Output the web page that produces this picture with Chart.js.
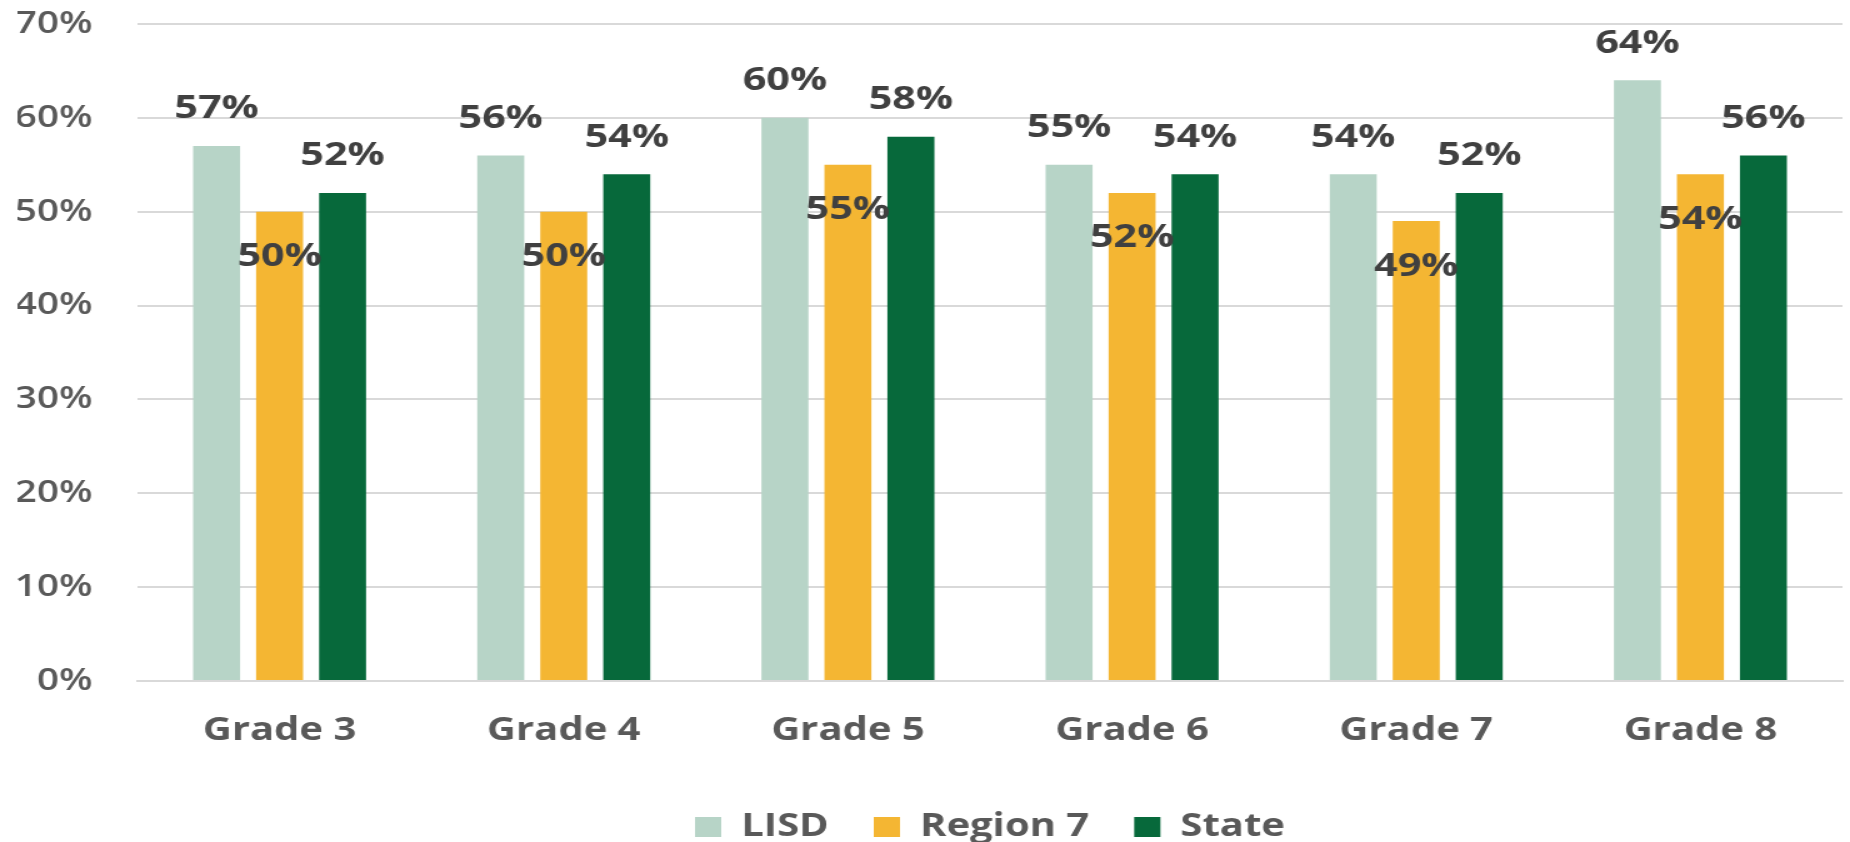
<!DOCTYPE html>
<html>
<head>
<meta charset="utf-8">
<title>Grade comparison</title>
<script src="https://cdn.jsdelivr.net/npm/chart.js@4.4.0/dist/chart.umd.min.js"></script>
<style>
  html, body { margin: 0; padding: 0; background: #fff; overflow: hidden; }
  #myChart { display: block; }
</style>
</head>
<body>
<!-- the picture is stretched sideways, so draw narrower and widen with css -->
<canvas id="myChart" width="1480" height="842" style="width:1850px;height:842px"></canvas>
<script>
"use strict";

var grades = ['Grade 3', 'Grade 4', 'Grade 5', 'Grade 6', 'Grade 7', 'Grade 8'];
var lisd = [57, 56, 60, 55, 54, 64];
var region7 = [50, 50, 55, 52, 49, 54];
var state = [52, 54, 58, 54, 52, 56];
var yTicks = [0, 10, 20, 30, 40, 50, 60, 70];

var textGray = '#595959';
var fontName = '"Open Sans", "DejaVu Sans", sans-serif';

/* value labels over / inside the bars */
var barLabels = {
    id: 'barLabels',
    afterDatasetsDraw: function (chart) {
        var ctx = chart.ctx;
        ctx.save();
        ctx.font = 'bold 33px ' + fontName;
        ctx.fillStyle = '#404040';
        ctx.textAlign = 'center';
        ctx.textBaseline = 'middle';
        chart.data.datasets.forEach(function (ds, i) {
            var meta = chart.getDatasetMeta(i);
            meta.data.forEach(function (bar, j) {
                ctx.fillText(ds.data[j] + '%', bar.x, bar.y + ds.labelOffset);
            });
        });
        ctx.restore();
    }
};

var ctx = document.getElementById('myChart').getContext('2d');
var chart = new Chart(ctx, {
    type: 'bar',
    data: {
        labels: grades,
        datasets: [{
                label: 'LISD',
                data: lisd,
                backgroundColor: '#b7d4c7',
                labelOffset: -37
            },
            {
                label: 'Region 7',
                data: region7,
                backgroundColor: '#f4b633',
                labelOffset: 45
            },
            {
                label: 'State',
                data: state,
                backgroundColor: '#07693b',
                labelOffset: -37
            }
        ]
    },
    options: {
        responsive: false,
        animation: false,
        categoryPercentage: 0.665,
        barPercentage: 0.746,
        layout: {
            // legend sits a little lower than chart.js would put it
            padding: { top: 24, left: 14, right: 6, bottom: -11 }
        },
        scales: {
            x: {
                grid: { display: false },
                border: { display: true, color: '#d9d9d9', width: 2 },
                ticks: {
                    color: textGray,
                    padding: 23,
                    font: { family: fontName, size: 32, weight: 'bold' }
                },
                afterFit: function (scale) {
                    scale.height = 94;
                }
            },
            y: {
                min: 0,
                max: 70,
                afterBuildTicks: function (scale) {
                    scale.ticks = yTicks.map(function (v) { return { value: v }; });
                },
                afterFit: function (scale) {
                    scale.width = 96;
                    scale.paddingTop = 0;
                    scale.paddingBottom = 0;
                },
                grid: { color: '#d9d9d9', lineWidth: 2, drawTicks: false },
                border: { display: false },
                ticks: {
                    color: textGray,
                    padding: 36,
                    font: { family: fontName, size: 31, weight: '600' },
                    callback: function (v) { return v + '%'; }
                }
            }
        },
        plugins: {
            legend: {
                position: 'bottom',
                fullSize: false,
                labels: {
                    color: textGray,
                    boxWidth: 21,
                    boxHeight: 20,
                    padding: 36,
                    font: { family: fontName, size: 32, weight: 'bold' }
                }
            },
            tooltip: { enabled: false }
        }
    },
    plugins: [barLabels]
});
</script>
</body>
</html>
